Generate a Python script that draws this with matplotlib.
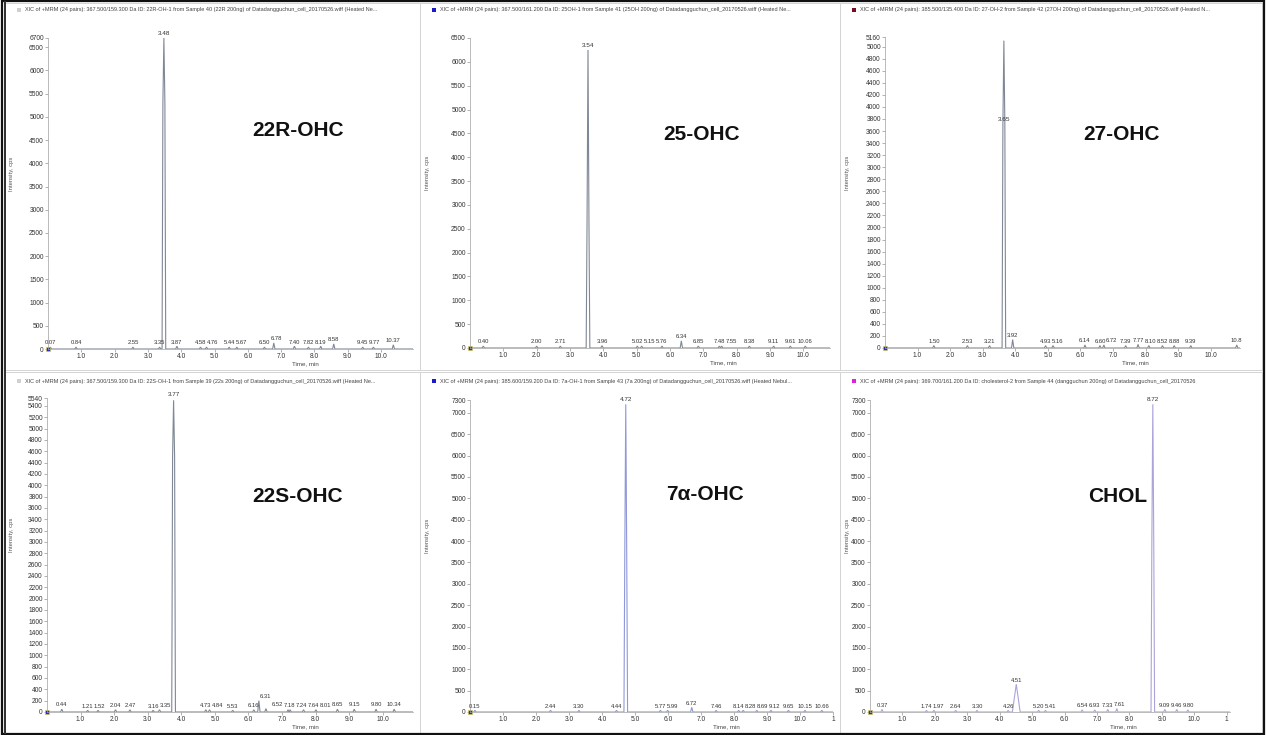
import matplotlib
matplotlib.use("Agg")
import matplotlib.pyplot as plt
from matplotlib.patches import Rectangle

plt.rcParams["font.family"] = ["Liberation Sans", "DejaVu Sans"]

W, H = 1266, 735

# ------------------------------------------------------------
# data
# ------------------------------------------------------------
headers = [
    "XIC of +MRM (24 pairs): 367.500/159.300 Da ID: 22R-OH-1 from Sample 40 (22R 200ng) of Datadangguchun_cell_20170526.wiff (Heated Ne...",
    "XIC of +MRM (24 pairs): 367.500/161.200 Da ID: 25OH-1 from Sample 41 (25OH 200ng) of Datadangguchun_cell_20170526.wiff (Heated Ne...",
    "XIC of +MRM (24 pairs): 385.500/135.400 Da ID: 27-OH-2 from Sample 42 (27OH 200ng) of Datadangguchun_cell_20170526.wiff (Heated N...",
    "XIC of +MRM (24 pairs): 367.500/159.300 Da ID: 22S-OH-1 from Sample 39 (22s 200ng) of Datadangguchun_cell_20170526.wiff (Heated Ne...",
    "XIC of +MRM (24 pairs): 385.600/159.200 Da ID: 7a-OH-1 from Sample 43 (7a 200ng) of Datadangguchun_cell_20170526.wiff (Heated Nebul...",
    "XIC of +MRM (24 pairs): 369.700/161.200 Da ID: cholesterol-2 from Sample 44 (dangguchun 200ng) of Datadangguchun_cell_20170526",
]
names = ["22R-OHC", "25-OHC", "27-OHC", "22S-OHC", "7α-OHC", "CHOL"]

# y axis: top value and tick step
y_top = [6700, 6500, 5160, 5540, 7300, 7300]
y_step = [500, 500, 200, 200, 500, 500]

# main peak: retention time, shoulder height, apex height, label height
main_t = [3.48, 3.54, 3.65, 3.77, 4.72, 8.72]
main_shoulder = [5300, 2500, 3700, 4500, 3600, 3900]
main_apex = [6700, 6250, 5100, 5500, 7200, 7200]
main_label_y = [6750, 6300, 3750, 5560, 7250, 7250]

p1_minor_t = [0.07, 0.84, 2.55, 3.35, 3.87, 4.58, 4.76, 5.44, 5.67, 6.50, 6.78,
              7.40, 7.82, 8.19, 8.58, 9.45, 9.77, 10.37]
p1_minor_h = [40, 40, 40, 40, 60, 40, 40, 40, 40, 40, 130,
              60, 40, 60, 110, 40, 40, 90]

p2_minor_t = [0.40, 2.00, 2.71, 3.96, 5.02, 5.15, 5.76, 6.34, 6.85, 7.48, 7.55,
              8.38, 9.11, 9.61, 10.06]
p2_minor_h = [40, 40, 40, 50, 40, 40, 40, 150, 40, 40, 40,
              40, 40, 40, 40]

p3_minor_t = [1.50, 2.53, 3.21, 3.92, 4.93, 5.16, 6.14, 6.60, 6.72, 7.39, 7.77,
              8.10, 8.52, 8.88, 9.39, 10.8]
p3_minor_h = [40, 40, 40, 140, 40, 40, 50, 40, 50, 40, 60,
              40, 40, 40, 40, 50]

p4_minor_t = [0.44, 1.21, 1.52, 2.04, 2.47, 3.16, 3.35, 4.73, 4.84, 5.53, 6.16,
              6.31, 6.52, 7.18, 7.24, 7.64, 8.01, 8.65, 9.15, 9.80, 10.34]
p4_minor_h = [50, 30, 30, 40, 40, 30, 40, 40, 40, 30, 40,
              200, 60, 40, 40, 40, 40, 50, 50, 50, 50]

p5_minor_t = [0.15, 2.44, 3.30, 4.44, 5.77, 5.99, 6.72, 7.46, 8.14, 8.28, 8.69,
              9.12, 9.65, 10.15, 10.66]
p5_minor_h = [40, 40, 40, 40, 40, 40, 110, 40, 40, 40, 40,
              40, 40, 40, 40]

p6_minor_t = [0.37, 1.74, 1.97, 2.64, 3.30, 4.26, 4.51, 5.20, 5.41, 6.54, 6.93,
              7.33, 7.61, 9.09, 9.46, 9.80]
p6_minor_h = [60, 40, 40, 40, 40, 40, 650, 40, 40, 50, 50,
              60, 80, 60, 60, 50]

minor_t = [p1_minor_t, p2_minor_t, p3_minor_t, p4_minor_t, p5_minor_t, p6_minor_t]
minor_h = [p1_minor_h, p2_minor_h, p3_minor_h, p4_minor_h, p5_minor_h, p6_minor_h]

x_ticks = [1.0, 2.0, 3.0, 4.0, 5.0, 6.0, 7.0, 8.0, 9.0, 10.0]

# ------------------------------------------------------------
# layout / style
# ------------------------------------------------------------
# axes box in pixels: left, right, top, bottom
boxes = [(48, 413, 38, 349), (470, 830, 38, 348), (885, 1240, 37, 348),
         (47, 413, 398, 712), (470, 833, 400, 712), (870, 1230, 400, 712)]
x_max = [10.96, 10.8, 10.9, 10.9, 11.0, 11.1]
frames = [(5, 3, 420, 370), (420, 3, 840, 370), (840, 3, 1262, 370),
          (5, 372, 420, 733), (420, 372, 840, 733), (840, 372, 1262, 733)]
trace_colors = ["#808896", "#808896", "#808896", "#808896", "#8f98d8", "#aaa4da"]
marker_colors = ["#d0d0d0", "#1a1ac8", "#7a0a20", "#d0d0d0", "#1a1ac8", "#e020e0"]
name_pos = [(298, 131), (702, 135), (1121, 135), (298, 497), (705, 495), (1118, 496)]
TXT = "#333333"
LAB_FS = 4.2


def fx(x):
    return x / W


def fy(y):
    return 1 - y / H


def build_trace(t0, sh, ap, ts, hs, xm):
    pts = [(0.0, 0.0), (xm, 0.0)]
    pts += [(t0 - 0.055, 0), (t0 - 0.03, sh), (t0, ap), (t0 + 0.03, sh), (t0 + 0.055, 0)]
    for t, h in zip(ts, hs):
        w = 0.12 if h > 300 else 0.035
        pts += [(t - w, 0), (t, h), (t + w, 0)]
    pts.sort(key=lambda p: p[0])
    return [p[0] for p in pts], [p[1] for p in pts]


def label_width(s):
    # rough pixel width of a small label
    em = LAB_FS * 100 / 72
    return sum(0.28 * em if c == "." else 0.556 * em for c in s)


fig = plt.figure(figsize=(W / 100, H / 100), dpi=100)
fig.patch.set_facecolor("white")

for i in range(6):
    l, r, t, b = boxes[i]
    ax = fig.add_axes([fx(l), fy(b), (r - l) / W, (b - t) / H])
    ax.set_facecolor("none")

    xs, ys = build_trace(main_t[i], main_shoulder[i], main_apex[i],
                         minor_t[i], minor_h[i], x_max[i])
    ax.plot(xs, ys, color=trace_colors[i], lw=0.8, solid_joinstyle="miter")
    ax.plot([0], [0], marker="s", ms=2.5, color="#2030d0", mec="#e0d020", mew=0.4,
            clip_on=False)

    ax.set_xlim(0, x_max[i])
    ax.set_ylim(0, y_top[i])
    ticks = list(range(0, y_top[i] - y_step[i] // 3, y_step[i])) + [y_top[i]]
    ax.set_yticks(ticks)
    ax.set_yticklabels([str(v) for v in ticks])
    xt = x_ticks + ([11.0] if x_max[i] >= 11.0 else [])
    ax.set_xticks(xt)
    ax.set_xticklabels(["%.1f" % v for v in x_ticks] + (["1"] if x_max[i] >= 11.0 else []))

    ax.tick_params(axis="both", labelsize=4.8, labelcolor=TXT, length=2,
                   width=0.4, color="#777777", pad=1)
    for s in ["top", "right"]:
        ax.spines[s].set_visible(False)
    for s in ["left", "bottom"]:
        ax.spines[s].set_color("#a0a0a0")
        ax.spines[s].set_linewidth(0.5)

    # peak labels
    ax.text(main_t[i], main_label_y[i], "%.2f" % main_t[i], fontsize=4.6,
            color=TXT, ha="center", va="bottom", clip_on=False)
    px_per_min = (r - l) / x_max[i]
    prev_right = -1e9
    for tt, hh in zip(minor_t[i], minor_h[i]):
        lab = "10.8" if tt == 10.8 else "%.2f" % tt
        w = label_width(lab)
        cx = tt * px_per_min
        # labels sitting near the baseline are packed side by side
        if hh < 300 and cx - w / 2 < prev_right + 0.6:
            cx = prev_right + 0.6 + w / 2
        if hh < 300:
            prev_right = cx + w / 2
        shift = (cx - tt * px_per_min) * 0.72
        ax.annotate(lab, (tt, hh), xytext=(shift, 1.2), textcoords="offset points",
                    fontsize=LAB_FS, color=TXT, ha="center", va="bottom")

    # panel texts in figure coordinates
    fl, ft, fr, fb = frames[i]
    dy = 2 if i >= 3 else 0
    fig.text(fx(fl + 20), fy(ft + 7 + dy), headers[i],
             fontsize=4.0, color="#444444", va="center", ha="left")
    fig.add_artist(Rectangle((fx(fl + 12), fy(ft + 9 + dy)),
                             4 / W, 4 / H, transform=fig.transFigure,
                             facecolor=marker_colors[i], edgecolor="none"))
    fig.text(fx(fl + 7), fy((t + b) / 2 - 20), "Intensity, cps", rotation=90,
             fontsize=4.2, color="#555555", ha="center", va="center")
    fig.text(fx(l + (r - l) * 0.705), fy(b + 15), "Time, min", fontsize=4.4,
             color="#444444", ha="center", va="center")
    fig.text(fx(name_pos[i][0]), fy(name_pos[i][1]), names[i], fontsize=15,
             fontweight="bold", color="#111111", ha="center", va="center")

    fig.add_artist(Rectangle((fx(fl), fy(fb)), (fr - fl) / W, (fb - ft) / H,
                             transform=fig.transFigure, facecolor="none",
                             edgecolor="#d4d4d4", lw=0.7))

# outer frame
fig.add_artist(Rectangle((fx(2), fy(734)), 1262 / W, 733 / H, transform=fig.transFigure,
                         facecolor="none", edgecolor="#111111", lw=1.6))
fig.add_artist(Rectangle((fx(4), fy(734)), 2 / W, 733 / H, transform=fig.transFigure,
                         facecolor="#333333", edgecolor="none"))

fig.savefig("out.png", dpi=100)
